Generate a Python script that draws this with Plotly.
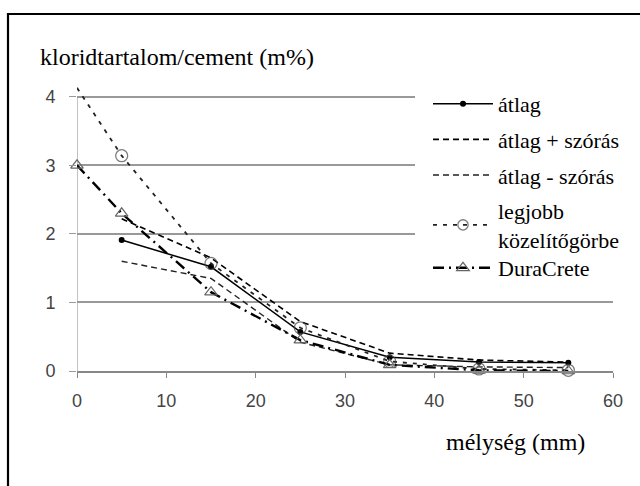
import plotly.graph_objects as go

# Chloride content profiles vs depth
depth = [5, 15, 25, 35, 45, 55]
atlag = [1.91, 1.52, 0.57, 0.20, 0.13, 0.12]
atlag_plus = [2.22, 1.65, 0.72, 0.26, 0.16, 0.13]
atlag_minus = [1.60, 1.35, 0.42, 0.09, 0.06, 0.05]

fit_depth = [0, 5, 15, 25, 35, 45, 55]
legjobb = [4.13, 3.14, 1.57, 0.63, 0.14, 0.03, 0.01]

dura_depth = [0, 5, 15, 25, 35, 45, 55]
duracrete = [3.00, 2.30, 1.15, 0.45, 0.09, 0.01, 0.0]

x_ticks = [0, 10, 20, 30, 40, 50, 60]
y_ticks = [0, 1, 2, 3, 4]

W, H = 640, 486
L, R, T, B = 77, 27, 83, 115
pw, ph = W - L - R, H - T - B


def px_x(p):
    return (p - L) / pw


def px_y(p):
    return (H - B - p) / ph


serif = "Liberation Serif, Times New Roman, serif"
sans = "Liberation Sans, Arial, sans-serif"

fig = go.Figure()

fig.add_trace(go.Scatter(
    x=depth, y=atlag, name="átlag", mode="lines+markers",
    line=dict(color="black", width=1.5),
    marker=dict(symbol="circle", size=6, color="black"),
    legendgroup="a", cliponaxis=False))

fig.add_trace(go.Scatter(
    x=depth, y=atlag_plus, name="átlag + szórás", mode="lines",
    line=dict(color="black", width=1.6, dash="6px,4px"),
    legendgroup="b", cliponaxis=False))

fig.add_trace(go.Scatter(
    x=depth, y=atlag_minus, name="átlag - szórás", mode="lines",
    line=dict(color="#222", width=1.4, dash="6px,4px"),
    legendgroup="c", cliponaxis=False))

fig.add_trace(go.Scatter(
    x=fit_depth, y=legjobb, name="legjobb<br>közelítőgörbe", mode="lines+markers",
    line=dict(color="#222", width=1.8, dash="4px,6px"),
    marker=dict(symbol="circle-open", size=[0, 12, 12, 12, 12, 12, 12],
                color="#444", line=dict(width=1.3)),
    legendgroup="d", cliponaxis=False))

fig.add_trace(go.Scatter(
    x=dura_depth, y=duracrete, name="DuraCrete", mode="lines+markers",
    line=dict(color="black", width=2.4, dash="11px,5px,2px,5px"),
    marker=dict(symbol="triangle-up-open", size=11, color="#666",
                line=dict(width=1.2)),
    legend="legend2", cliponaxis=False))

# vertical axis line from 0 to 4
fig.add_shape(type="line", xref="x", yref="y", x0=0, x1=0, y0=0, y1=4,
              line=dict(color="#999", width=1.2), layer="below")

# white panel behind the legend, hiding the gridlines there
fig.add_shape(type="rect", xref="paper", yref="paper",
              x0=px_x(415), x1=px_x(W + 10), y0=px_y(295), y1=px_y(84),
              fillcolor="white", line=dict(width=0), layer="above")

# outer frame
fig.add_shape(type="rect", xref="paper", yref="paper",
              x0=px_x(8), x1=px_x(W + 20), y0=px_y(H + 20), y1=px_y(14),
              line=dict(color="black", width=2.2))

fig.add_annotation(text="kloridtartalom/cement (m%)", xref="paper", yref="paper",
                   x=px_x(38), y=px_y(57), xanchor="left", yanchor="middle",
                   showarrow=False, font=dict(family=serif, size=24, color="black"))
fig.add_annotation(text="mélység (mm)", xref="paper", yref="paper",
                   x=px_x(515), y=px_y(442), xanchor="center", yanchor="middle",
                   showarrow=False, font=dict(family=serif, size=24, color="black"))

legend_font = dict(family=serif, size=22, color="black")

fig.update_layout(
    width=W, height=H,
    margin=dict(l=L, r=R, t=T, b=B),
    paper_bgcolor="white", plot_bgcolor="white",
    showlegend=True,
    legend=dict(x=px_x(428), y=1.0, xanchor="left", yanchor="top",
                bgcolor="rgba(0,0,0,0)", font=legend_font,
                tracegroupgap=4, itemwidth=60),
    legend2=dict(x=px_x(428), y=px_y(247), xanchor="left", yanchor="top",
                 bgcolor="rgba(0,0,0,0)", font=legend_font, itemwidth=60),
    xaxis=dict(range=[0, 60], tickvals=x_ticks, showgrid=False,
               showline=True, linecolor="#888", linewidth=1.5,
               ticks="outside", ticklen=5, tickcolor="#888",
               ticklabelstandoff=8,
               tickfont=dict(family=sans, size=18, color="#444"),
               zeroline=False),
    yaxis=dict(range=[0, 4.2], tickvals=y_ticks, showgrid=True,
               gridcolor="#999", gridwidth=1.5,
               ticks="outside", ticklen=7, tickcolor="#999",
               ticklabelstandoff=10,
               tickfont=dict(family=sans, size=18, color="#444"),
               zeroline=False, showline=False),
)

fig.write_html("out.html")
